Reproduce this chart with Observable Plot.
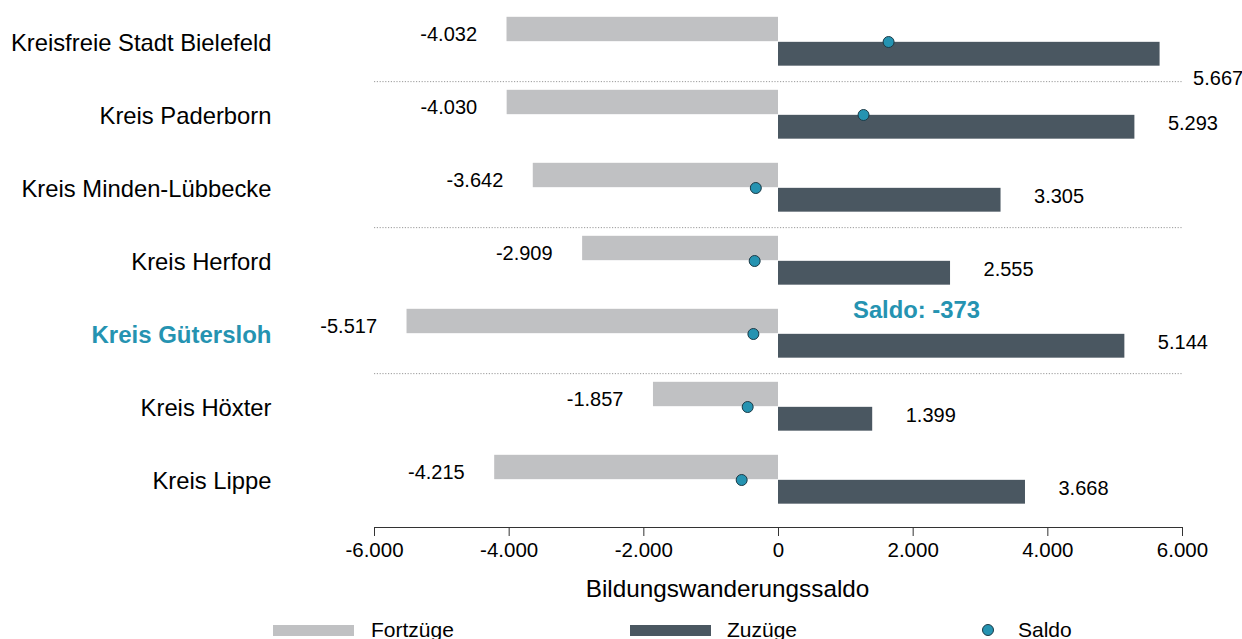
<!DOCTYPE html>
<html>
<head>
<meta charset="utf-8">
<script src="https://cdn.jsdelivr.net/npm/d3@7"></script>
<script src="https://cdn.jsdelivr.net/npm/@observablehq/plot@0.6"></script>
<style>
  html, body { margin: 0; padding: 0; background: #fff; }
  body { width: 1242px; height: 639px; overflow: hidden; font-family: "Liberation Sans", Arial, sans-serif; }
  #legend { position: relative; width: 1242px; height: 23px; font-size: 21px; line-height: 23px; color: #000; }
  #legend .sw { position: absolute; top: 8px; width: 81px; height: 11px; }
  #legend .lab { position: absolute; top: 1px; white-space: nowrap; }
  #legend .dot { position: absolute; top: 7px; width: 10px; height: 10px; border-radius: 50%; border: 1px solid #1c3a46; }
</style>
</head>
<body>
<div id="chart"></div>
<div id="legend"></div>
<script>
// ---- data ----
const categories = ["Kreisfreie Stadt Bielefeld", "Kreis Paderborn", "Kreis Minden-Lübbecke", "Kreis Herford", "Kreis Gütersloh", "Kreis Höxter", "Kreis Lippe"];
const fortzuege = [-4032, -4030, -3642, -2909, -5517, -1857, -4215];
const zuzuege = [5667, 5293, 3305, 2555, 5144, 1399, 3668];
const saldo = [1635, 1263, -337, -354, -373, -458, -547];
const xTicks = [-6000, -4000, -2000, 0, 2000, 4000, 6000];
const highlight = "Kreis Gütersloh";
const separatorAfter = ["Kreisfreie Stadt Bielefeld", "Kreis Minden-Lübbecke", "Kreis Gütersloh"];
const lowLabel = ["Kreisfreie Stadt Bielefeld"];
const seriesNames = ["Fortzüge", "Zuzüge", "Saldo"];
const xLabel = "Bildungswanderungssaldo";

// ---- styles ----
const cGray = "#c0c1c3", cDark = "#4a5761", cTeal = "#2593b1", cDotStroke = "#1c3a46";
const font = "'Liberation Sans', Arial, sans-serif";

const rows = categories.map((name, i) => ({name, fort: fortzuege[i], zu: zuzuege[i], saldo: saldo[i]}));
const fmt = d3.formatLocale({decimal: ",", thousands: ".", grouping: [3], currency: ["", "€"], minus: "-"}).format(",d");

const yTop = 3.2, yBot = 518.8;
const bw = (yBot - yTop) / categories.length;
const H = 617;

const hl = rows.find(r => r.name === highlight);

const chart = Plot.plot({
  width: 1242,
  height: H,
  marginLeft: 374,
  marginRight: 60,
  marginTop: 0,
  marginBottom: H - 527,
  style: {fontFamily: font, fontSize: "20px", color: "#000", background: "#fff"},
  x: {domain: [-6000, 6000], axis: null},
  y: {domain: categories, range: [yTop, yBot], padding: 0, axis: null},
  marks: [
    Plot.ruleY(separatorAfter, {y: d => d, dy: bw / 2 + 2.8, stroke: "#9a9a9a", strokeWidth: 1, strokeDasharray: "1.2,1.6"}),
    Plot.barX(rows, {x1: d => 0, x2: "fort", y: "name", fill: cGray, insetTop: 11.8, insetBottom: bw / 2}),
    Plot.barX(rows, {x1: d => 0, x2: "zu", y: "name", fill: cDark, insetTop: bw / 2, insetBottom: bw / 2 - 24.5}),
    Plot.dot(rows, {x: "saldo", y: "name", r: 5.5, fill: cTeal, stroke: cDotStroke, strokeWidth: 1}),
    Plot.text(rows, {x: "fort", y: "name", text: d => fmt(d.fort), textAnchor: "end", dx: -30, dy: -7.5, fontSize: 20, fill: "#000"}),
    Plot.text(rows.filter(d => !lowLabel.includes(d.name)), {x: "zu", y: "name", text: d => fmt(d.zu), textAnchor: "start", dx: 33, dy: 8.5, fontSize: 20, fill: "#000"}),
    Plot.text(rows.filter(d => lowLabel.includes(d.name)), {x: "zu", y: "name", text: d => fmt(d.zu), textAnchor: "start", dx: 33, dy: 37, fontSize: 20, fill: "#000"}),
    Plot.text(rows.filter(d => d.name !== highlight), {y: "name", text: "name", frameAnchor: "left", textAnchor: "end", dx: -103, dy: 1.5, fontSize: 23.8, fill: "#000"}),
    Plot.text([hl], {y: "name", text: "name", frameAnchor: "left", textAnchor: "end", dx: -103, dy: 1.5, fontSize: 24, fontWeight: "bold", fill: cTeal}),
    Plot.text([hl], {x: d => 0, y: "name", text: d => "Saldo: " + fmt(d.saldo), textAnchor: "middle", dx: 138, dy: -24, fontSize: 23.8, fontWeight: "bold", fill: cTeal}),
    Plot.axisX({ticks: xTicks, tickFormat: fmt, tickSize: 9, tickPadding: 6, fontSize: 20.5, label: null, stroke: "#333", fill: "#000"}),
    Plot.frame({anchor: "bottom", stroke: "#333"}),
    Plot.text([xLabel], {text: d => d, frameAnchor: "bottom", dx: -51, dy: 69, fontSize: 24.3, fill: "#000"})
  ]
});
document.getElementById("chart").appendChild(chart);

// ---- legend ----
const lg = document.getElementById("legend");
const items = [
  {type: "sw", color: cGray, sx: 273, tx: 371, label: seriesNames[0]},
  {type: "sw", color: cDark, sx: 630, tx: 727, label: seriesNames[1]},
  {type: "dot", color: cTeal, sx: 982, tx: 1018, label: seriesNames[2]}
];
for (const it of items) {
  const s = document.createElement("div");
  s.className = it.type;
  s.style.left = it.sx + "px";
  s.style.background = it.color;
  lg.appendChild(s);
  const t = document.createElement("div");
  t.className = "lab";
  t.style.left = it.tx + "px";
  t.textContent = it.label;
  lg.appendChild(t);
}
</script>
</body>
</html>
